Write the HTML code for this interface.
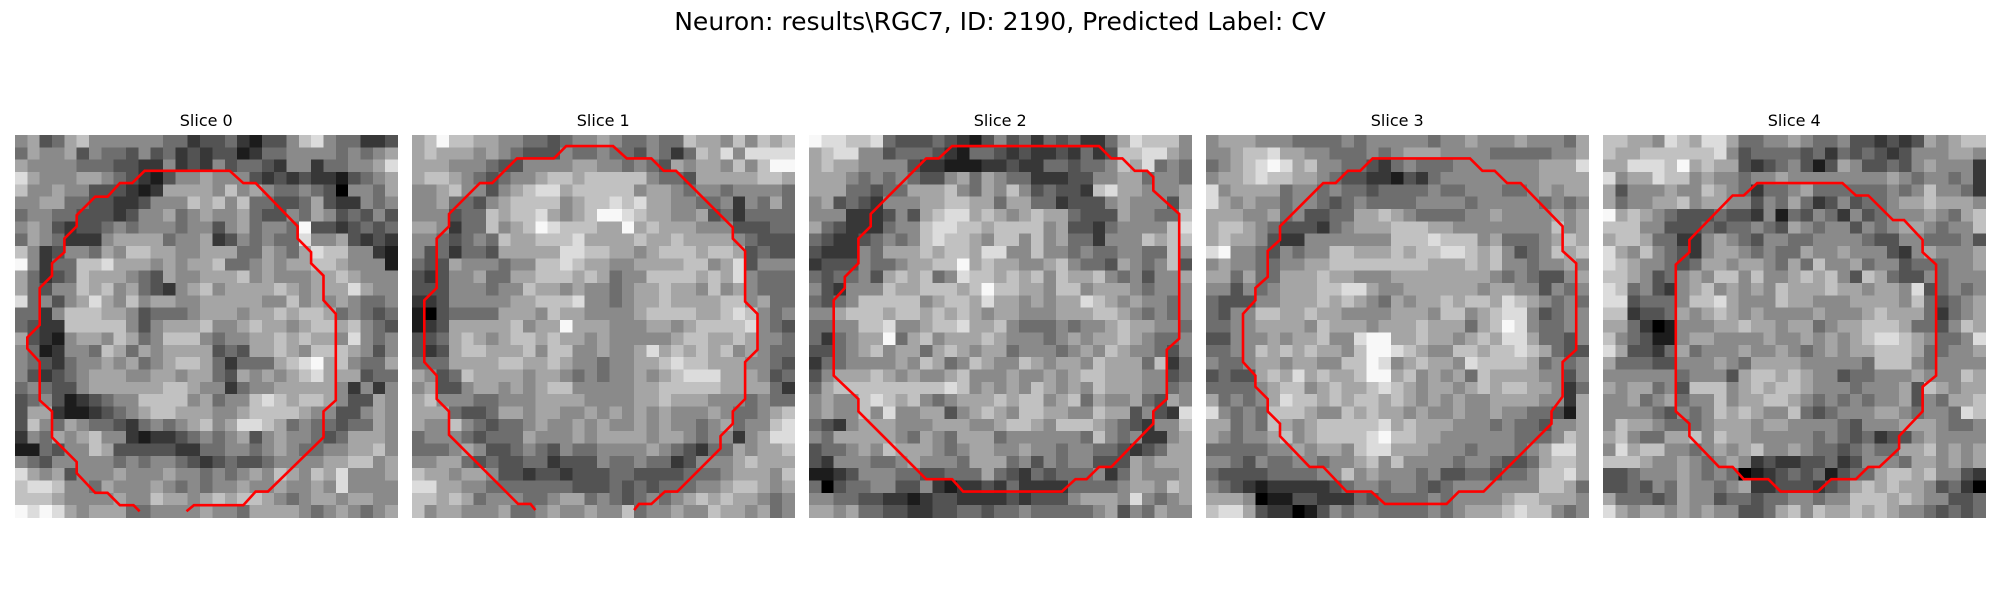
<!DOCTYPE html>
<html><head><meta charset="utf-8"><style>
html,body{margin:0;padding:0;background:#fff;width:2000px;height:600px;overflow:hidden}
svg{display:block;font-family:"DejaVu Sans","Liberation Sans",sans-serif}
</style></head><body>
<svg id="fig" width="2000" height="600" viewBox="0 0 2000 600">
<text x="1000" y="30" text-anchor="middle" font-size="25" fill="#000">Neuron: results\RGC7, ID: 2190, Predicted Label: CV</text>
<g id="panels"></g>
</svg>
<script>
const sliceTitles = ["Slice 0","Slice 1","Slice 2","Slice 3","Slice 4"];
const panelLeft = [15, 412, 809, 1206, 1603];
const slice0 = ["5634675555554423342133578544223","4655635443534232331244555545456","6555544433225232534432552445568","8655566543213556555323232213456","7556553332126666575654454305546","5566443322355576757443346322545","4554433323556456556433546534353","5653233454555455356455493323434","4654222566664556235454485563232","7523554657766556664465468775521","9524477866656566744565667765551","6423476665436556667565556676555","6435576756432567566667656668655","8453568657566556666655756565445","4425777665344456665667677645434","4322777775356667556766567767543","6321566576457775455667676658545","5412554764656666343667657776535","5432455656456776424446789675446","5323456665566566436565678666344","4543356666667765524556666652525","3453123455777756455787677653365","3662112345677666556777765533565","3754654432454567568876454434465","2546567552122345456356554346665","1143557633333224455456544556675","5435555545455432343345555667756","8656355565556554545657657685556","7887554655565454556556556585555","7776555565576656767765456656655","9898656664455556554666654565456"];
const slice1 = ["6797766554434556544544766575767","6766656543335445443542476858888","6665554335555665545436566575799","6776543455677677777544366666776","5567553567886777775665455455554","5564435677775677878665544525464","5553447677865679987665563424444","6652447567987776696766655533344","5543454766777866667667666654333","5342443666668877665677767763433","4336555455778766556666775683555","3235564466777676455777767685444","3335554557665655456676657565444","2235555566777855456676666775644","1034444666576655556777766787545","1236666675669666555665677778543","3346765677676656555556776676554","3236776667577556556867676756544","4446666776676554556678776665543","6534766665665454556567888666534","5633566565677555556677777666642","6755544555666655556676665554544","6664334665665565656565556544567","6557543445655656556565545645578","4555434446555656666566545525688","4445653345435445555654324465667","5566434334423335445442355567666","7665665332332333443333444566657","8866554444444333434344455677656","7767645554456645434545676766545","7566555644565565574556557665645"];
const slice2 = ["9887784333432135342434224687775","6788553444321443232232423778865","6766555532211122322443445768454","6665454543356465442223355664554","6664434466675465753433278665556","5634325556677664664423335655536","5552223536788676567664333655447","6432224557887767777563324555578","4322345457877657757564425557677","3222546667677688557554544554475","2333544566779676655675443654573","4344536767458776767576675453556","5325557667776797766577566654555","4345777775677686656566876565545","5567776776767656655566677654545","4455778556778667544454556766554","4245669467566676555456566765445","3345675664676566455545657655435","2445555657645765576566576664724","3566676565567555655656776665534","4677777777787565657656576665545","5655787675456667677567465564365","5655758556635676577665576635328","4325666555666556776577765432557","5466666546546664555555475452256","3445657666545665565545544323466","3255544565554666453545533365666","1123555443344464324344452465556","4034455335212232422224444566576","5544332212332222323335666585456","6656443322334434454444456354655"];
const slice3 = ["5666555444454555554556555655546","5567786655444545666555544444556","4567898675544324544455555556668","5667877665433221324555555556666","8566664554544344445445554456566","8656554554345444455554555554545","6665564533446676544445565555656","6776543332456667776655555555756","6766532255555557778777564445676","8955435455776667677887675345767","5655445566777777776667675545565","6646446667665556666666654543356","5535456667788655666666566553545","4333556667676546566767768765454","4355776676655556665775678853455","4455666657666566676664679854455","3355565667558996676656768864435","4455767676657998765577677876433","5445665665577985676658777764545","3433676867667996756564766665535","4444567756766787656656767766524","6454568776767767656565566665526","8545477765576766565565565544316","6645476567777786766655545443556","6545567567777897766555555444576","4444455656657886665554555456886","5543544554556757555545543346776","4333344445575655545334434457786","5432122222345545543455555557764","6665011332224344445455556776665","7886322013545544445456667877545"];
const slice4 = ["7766587688644556544533232365677","7667777778534444342434323555665","6688879676632345313653343565552","8566877565545565555555565455452","6355565576542445644444454575542","6455667566553546423534456676665","9676543334332514354253455565467","7775533343445436545535456654557","6776442256543554455554335544453","8657543256654544655655532565556","8765543466566546475564553444556","7765345657757556767537643354555","8745325675656576667665665834545","8834445778655576655566665743456","7723346567656555565556766642456","6642015556676656645667776443576","7543115665555655656567887654458","8633246455565565456566777644556","6444335556546666555554777545555","5555554555367767655344555655576","6566453777567677655545556376566","5564564557566776545454556354667","5555435457676557434555665455487","5766544456665665555435556665445","6754466757665555545434233565555","5867755456567556544345446675656","7776556545652322334235554665656","3345556545401234341344677675532","3343546554562233323467676653420","6444346553443445545577767655334","8656656565533467576676765543434"];
const contour0 = [[10.1,30.5],[9.6,30],[8.5,30],[7.5,29],[6.5,29],[5,27.4],[5,26.5],[3,24.5],[3,22.4],[2,21.5],[2,18.4],[1,17.3],[1,16.4],[2,15.4],[2,12.4],[3,11.4],[3,10.4],[4,9.5],[4,8.4],[5,7.4],[5,6.5],[6.5,5],[7.5,5],[8.5,3.9],[9.5,3.9],[10.5,2.9],[17.4,2.9],[18.5,3.9],[19.5,3.9],[22.9,7.4],[22.9,8.4],[24,9.5],[24,10.4],[25,11.4],[25,13.4],[26,14.5],[26,21.5],[25,22.4],[25,24.5],[20.5,28.9],[19.5,28.9],[18.5,30],[14.5,30],[13.9,30.5]];
const contour1 = [[10,30.4],[9.6,29.9],[8.6,29.9],[3,24.3],[3,22.4],[2,21.4],[2,19.5],[1,18.4],[1,13.4],[2,12.4],[2,8.4],[3,7.4],[3,6.4],[5.5,3.9],[6.5,3.9],[8.5,1.9],[11.5,1.9],[12.5,0.9],[16.3,0.9],[17.4,1.9],[19.4,1.9],[20.4,2.9],[21.4,2.9],[26,7.5],[26,8.4],[27,9.4],[27,13.5],[28,14.5],[28,17.4],[27,18.4],[27,21.4],[26,22.4],[26,23.4],[25,24.4],[25,25.4],[21.5,28.9],[20.5,28.9],[19.4,29.9],[18.4,29.9],[18,30.4]];
const contour2 = [[11.6,0.9],[23.5,0.9],[24.5,1.9],[25.4,1.9],[26.4,2.9],[27.4,2.9],[27.9,3.4],[27.9,4.5],[30,6.4],[30,16.5],[29,17.4],[29,21.4],[27.9,22.4],[27.9,23.4],[24.5,26.9],[23.5,26.9],[22.5,27.9],[21.6,27.9],[20.5,28.9],[12.5,28.9],[11.6,27.9],[9.5,27.9],[4,22.4],[4,21.4],[2,19.5],[2,13.4],[2.9,12.4],[2.9,11.5],[4,10.4],[4,8.4],[5,7.4],[5,6.4],[9.5,1.9],[10.5,1.9],[11.6,0.9]];
const contour3 = [[13.5,1.9],[21.4,1.9],[22.4,2.9],[23.4,2.9],[24.4,3.9],[25.5,3.9],[28.9,7.4],[28.9,9.4],[30,10.4],[30,17.4],[28.9,18.4],[28.9,21.2],[28,22.4],[28,23.4],[22.5,28.9],[20.5,28.9],[19.5,29.9],[14.5,29.9],[13.4,28.9],[11.4,28.9],[9.5,26.9],[8.4,26.9],[6,24.4],[6,23.4],[5,22.4],[5,21.4],[4,20.4],[4,19.5],[3,18.4],[3,14.5],[4,13.4],[4,12.4],[5,11.5],[5,9.4],[6,8.5],[6,7.4],[9.5,3.9],[10.5,3.9],[11.5,2.9],[12.5,2.9],[13.5,1.9]];
const contour4 = [[12.5,3.9],[19.4,3.9],[20.5,4.9],[21.5,4.9],[23.5,6.9],[24.4,6.9],[25.9,8.5],[25.9,9.5],[27,10.5],[27,19.5],[25.9,20.4],[25.9,22.4],[24,24.4],[24,25.4],[22.4,26.9],[21.5,26.9],[20.5,27.9],[18.5,27.9],[17.4,28.9],[14.4,28.9],[13.4,27.9],[11.4,27.9],[10.5,26.9],[9.4,26.9],[7,24.4],[7,23.4],[5.9,22.4],[5.9,10.5],[7,9.5],[7,8.5],[10.5,4.9],[11.4,4.9],[12.5,3.9]];
const slices = [slice0, slice1, slice2, slice3, slice4];
const contours = [contour0, contour1, contour2, contour3, contour4];
const closedContour = [false, false, true, true, true];

const NS = "http://www.w3.org/2000/svg";
const N = 31, SIZE = 382.5, TOP = 135, CELL = SIZE / N;
const root = document.getElementById("panels");
function xScale(p, u){ return panelLeft[p] + u * CELL; }
function yScale(v){ return TOP + v * CELL; }
function gray(d){ const g = Math.round(d * 27.5); return "rgb(" + g + "," + g + "," + g + ")"; }

slices.forEach(function(rows, p){
  const g = document.createElementNS(NS, "g");
  
  
  root.appendChild(g);
  const t = document.createElementNS(NS, "text");
  t.setAttribute("x", xScale(p, N / 2));
  t.setAttribute("y", 126);
  t.setAttribute("text-anchor", "middle");
  t.setAttribute("font-size", "16");
  t.textContent = sliceTitles[p];
  
  
  g.appendChild(t);
  const hm = document.createElementNS(NS, "g");
  hm.setAttribute("shape-rendering", "crispEdges");
  
  
  g.appendChild(hm);
  for (let r = 0; r < N; r++) {
    const row = rows[r] || "";
    for (let c = 0; c < N; c++) {
      const ch = row.charAt(c);
      const d = ch === "" ? 5 : parseInt(ch, 10);
      const rect = document.createElementNS(NS, "rect");
      const x0 = xScale(p, c), x1 = xScale(p, c + 1), y0 = yScale(r), y1 = yScale(r + 1);
      rect.setAttribute("x", x0.toFixed(2));
      rect.setAttribute("y", y0.toFixed(2));
      rect.setAttribute("width", (x1 - x0 + 0.4).toFixed(2));
      rect.setAttribute("height", (y1 - y0 + 0.4).toFixed(2));
      rect.setAttribute("fill", gray(d));
      
      
      hm.appendChild(rect);
    }
  }
  const pts = contours[p].map(function(q){ return xScale(p, q[0]).toFixed(1) + "," + yScale(q[1]).toFixed(1); }).join(" ");
  const line = document.createElementNS(NS, closedContour[p] ? "polygon" : "polyline");
  line.setAttribute("points", pts);
  line.setAttribute("fill", "none");
  line.setAttribute("stroke", "#ff0000");
  line.setAttribute("stroke-width", "2.6");
  line.setAttribute("stroke-linejoin", "miter");
  
  
  g.appendChild(line);
});
</script>
</body></html>
